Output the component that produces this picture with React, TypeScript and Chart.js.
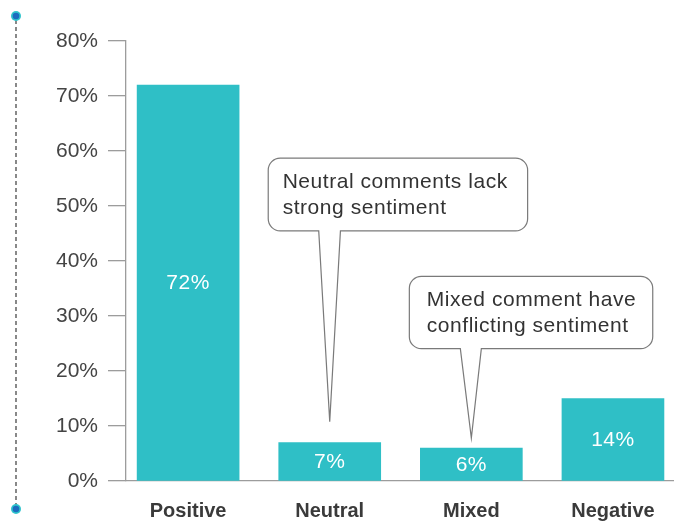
import React, { useEffect, useRef } from 'react';
import { Chart, registerables } from 'chart.js';

Chart.register(...registerables);

const categories = ['Positive', 'Neutral', 'Mixed', 'Negative'];
const values = [72, 7, 6, 15];
const valueLabels = ['72%', '7%', '6%', '14%'];
const yMin = 0;
const yMax = 80;
const yStep = 10;

const calloutCategories = ['Neutral', 'Mixed'];
const calloutTipValues = [10.8, 7.8];
const calloutTopValues = [58.7, 37.2];
const calloutTexts = [
  ['Neutral comments lack', 'strong sentiment'],
  ['Mixed comment have', 'conflicting sentiment'],
];

// styling only
const BAR_COLOR = '#2fbfc6';
const AXIS_COLOR = '#9c9c9c';
const FONT = '"Liberation Sans", Arial, Helvetica, sans-serif';
const calloutBox = [
  { dx: -61.5, w: 259.4, h: 72.7, tl: 11, tr: 10.7, pad: 14.4 },
  { dx: -62, w: 243.4, h: 72.3, tl: 11, tr: 10, pad: 17.4 },
];

const barLabelPlugin = {
  id: 'barLabels',
  afterDatasetsDraw(chart: any) {
    const ctx = chart.ctx;
    const meta = chart.getDatasetMeta(0);
    ctx.save();
    ctx.fillStyle = '#ffffff';
    ctx.font = `21px ${FONT}`;
    try { (ctx as any).letterSpacing = '0.5px'; } catch (e) {}
    ctx.textAlign = 'center';
    ctx.textBaseline = 'middle';
    meta.data.forEach((bar: any, i: number) => {
      const y = (bar.y + bar.base) / 2;
      ctx.fillText(valueLabels[i], bar.x, y + 1);
    });
    ctx.restore();
  },
};

const calloutPlugin = {
  id: 'callouts',
  afterDraw(chart: any) {
    const ctx = chart.ctx;
    const xs = chart.scales.x;
    const ys = chart.scales.y;
    ctx.save();
    calloutCategories.forEach((cat, i) => {
      const st = calloutBox[i];
      const x = xs.getPixelForValue(categories.indexOf(cat));
      const tipY = ys.getPixelForValue(calloutTipValues[i]);
      const T = ys.getPixelForValue(calloutTopValues[i]);
      const B = T + st.h;
      const L = x + st.dx;
      const R = L + st.w;
      const r = 12;
      ctx.beginPath();
      ctx.moveTo(x + st.tr, B);
      ctx.lineTo(R - r, B);
      ctx.arcTo(R, B, R, B - r, r);
      ctx.lineTo(R, T + r);
      ctx.arcTo(R, T, R - r, T, r);
      ctx.lineTo(L + r, T);
      ctx.arcTo(L, T, L, T + r, r);
      ctx.lineTo(L, B - r);
      ctx.arcTo(L, B, L + r, B, r);
      ctx.lineTo(x - st.tl, B);
      ctx.lineTo(x, tipY);
      ctx.closePath();
      ctx.fillStyle = '#ffffff';
      ctx.fill();
      ctx.strokeStyle = '#7a7a7a';
      ctx.lineWidth = 1.2;
      ctx.stroke();

      ctx.save();
      ctx.fillStyle = '#333333';
      ctx.font = `21px ${FONT}`;
      try { (ctx as any).letterSpacing = '0.55px'; } catch (e) {}
      ctx.textAlign = 'left';
      ctx.textBaseline = 'alphabetic';
      calloutTexts[i].forEach((line, j) => {
        ctx.fillText(line, L + st.pad, T + 30 + j * 26);
      });
      ctx.restore();
    });

    // left decoration: dashed line with dots
    ctx.setLineDash([4, 3]);
    ctx.strokeStyle = '#4a4a4a';
    ctx.lineWidth = 1.3;
    ctx.beginPath();
    ctx.moveTo(16, 20);
    ctx.lineTo(16, 505);
    ctx.stroke();
    ctx.setLineDash([]);
    [16, 509].forEach((cy) => {
      ctx.beginPath();
      ctx.arc(16, cy, 5, 0, Math.PI * 2);
      ctx.fillStyle = '#2fc4cc';
      ctx.fill();
      ctx.beginPath();
      ctx.arc(16, cy, 3.3, 0, Math.PI * 2);
      ctx.fillStyle = '#1c6dbf';
      ctx.fill();
    });
    ctx.restore();
  },
};

export default function App() {
  const ref = useRef<HTMLCanvasElement>(null);

  useEffect(() => {
    if (!ref.current) return;
    const chart = new Chart(ref.current, {
      type: 'bar',
      data: {
        datasets: [
          {
            data: values.map((v, i) => ({ x: i, y: v })),
            backgroundColor: BAR_COLOR,
            barThickness: 102,
            borderWidth: 0,
          },
        ],
      },
      options: {
        responsive: false,
        animation: false,
        layout: { padding: { top: 41, right: 1, left: 0, bottom: 0 } },
        plugins: { legend: { display: false }, tooltip: { enabled: false } },
        scales: {
          x: {
            type: 'linear',
            offset: false,
            min: -0.4386,
            max: 3.424,
            grid: { display: false, offset: false },
            border: { display: true, color: AXIS_COLOR, width: 1.3 },
            afterBuildTicks: (axis: any) => {
              axis.ticks = categories.map((_, i) => ({ value: i }));
            },
            afterFit: (s: any) => {
              s.height = 41;
            },
            ticks: {
              autoSkip: false,
              maxRotation: 0,
              padding: 10,
              color: '#3a3a3a',
              font: { family: FONT, size: 20, weight: 'bold' },
              callback: (v: any) => categories[v] ?? '',
            },
          },
          y: {
            min: yMin,
            max: yMax,
            grid: { drawOnChartArea: false, tickLength: 18, color: AXIS_COLOR, lineWidth: 1.3 },
            border: { display: true, color: AXIS_COLOR, width: 1.3 },
            afterFit: (s: any) => {
              s.width = 126;
            },
            ticks: {
              stepSize: yStep,
              padding: 10,
              color: '#444444',
              font: { family: FONT, size: 21 },
              callback: (v: any) => `${v}%`,
            },
          },
        },
      },
      plugins: [barLabelPlugin, calloutPlugin],
    });
    return () => chart.destroy();
  }, []);

  return (
    <div style={{ position: 'fixed', left: 0, top: 0, width: 674, height: 522, background: '#fff' }}>
      <canvas ref={ref} width={674} height={522} style={{ display: 'block' }} />
    </div>
  );
}
